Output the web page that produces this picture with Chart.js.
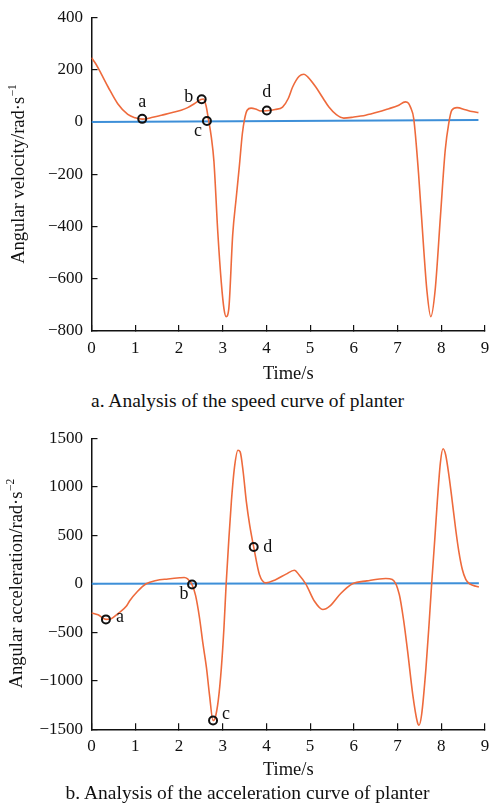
<!DOCTYPE html>
<html>
<head>
<meta charset="utf-8">
<script src="https://cdn.jsdelivr.net/npm/chart.js@4.4.1/dist/chart.umd.min.js"></script>
<style>
  html, body { margin: 0; padding: 0; background: #fff; }
  #page { position: relative; width: 491px; height: 810px; background: #fff; overflow: hidden; }
  canvas { position: absolute; left: 0; }
  .caption {
    position: absolute; left: 2px; width: 491px; text-align: center; white-space: nowrap;
    font: 19.5px/20px "Liberation Serif", "Times New Roman", serif; color: #111;
  }
</style>
</head>
<body>
<div id="page">
  <canvas id="speedChart" width="491" height="390" style="top:0"></canvas>
  <div class="caption" style="top:391px">a. Analysis of the speed curve of planter</div>
  <canvas id="accelChart" width="491" height="390" style="top:400px"></canvas>
  <div class="caption" style="top:783px">b. Analysis of the acceleration curve of planter</div>
</div>
<script>
// tick labels
var timeTicks = [0, 1, 2, 3, 4, 5, 6, 7, 8, 9];
var speedTicks = [-800, -600, -400, -200, 0, 200, 400];
var accelTicks = [-1500, -1000, -500, 0, 500, 1000, 1500];
var markLabels = ['a', 'b', 'c', 'd'];

// angular velocity (rad/s)
var speedTime = [0, 0.1, 0.22, 0.38, 0.6, 0.83, 1.0, 1.16, 1.4, 1.6, 1.85, 2.05, 2.2, 2.35, 2.5, 2.56,
  2.62, 2.67, 2.74, 2.8, 2.89, 2.97, 3.03, 3.08, 3.14, 3.23, 3.31, 3.38, 3.45, 3.5, 3.56, 3.65,
  3.75, 3.87, 4.0, 4.2, 4.37, 4.5, 4.6, 4.75, 4.86, 4.95, 5.13, 5.3, 5.43, 5.6, 5.77, 6.0, 6.27,
  6.55, 6.8, 7.0, 7.18, 7.25, 7.3, 7.37, 7.48, 7.6, 7.67, 7.76, 7.86, 7.98, 8.09, 8.17, 8.24,
  8.36, 8.55, 8.7, 8.85];
var speedValue = [246, 222, 185, 134, 70, 29, 16, 11, 18, 26, 36, 45, 55, 70, 86, 88,
  62, 15, -57, -150, -426, -617, -715, -745, -715, -430, -290, -172, -45, 10, 45, 53,
  50, 42, 43, 48, 57, 90, 134, 175, 183, 172, 134, 90, 57, 28, 15, 19, 26,
  38, 51, 62, 77, 72, 55, 13, -197, -490, -643, -745, -643, -363, -108, -6, 45,
  55, 47, 40, 36];
var speedRefTime = [0, 8.85];
var speedRefValue = [0, 8];
var speedMarkTime = [1.16, 2.52, 2.64, 4.01];
var speedMarkValue = [12, 87, 4, 44];

// angular acceleration (rad/s^2)
var accelTime = [0, 0.15, 0.33, 0.45, 0.6, 0.8, 0.87, 1.05, 1.25, 1.48, 1.75, 2.02, 2.12, 2.2,
  2.3, 2.38, 2.47, 2.55, 2.63, 2.7, 2.78, 2.83, 2.9, 2.97, 3.03, 3.08, 3.14, 3.2, 3.27, 3.35,
  3.4, 3.47, 3.54, 3.62, 3.71, 3.84, 3.99, 4.2, 4.45, 4.64, 4.75, 4.9, 5.1, 5.29, 5.45, 5.7,
  5.97, 6.3, 6.73, 6.88, 7.04, 7.14, 7.23, 7.35, 7.45, 7.49, 7.55, 7.65, 7.72, 7.78, 7.85,
  7.91, 7.98, 8.04, 8.1, 8.18, 8.25, 8.33, 8.4, 8.48, 8.56, 8.62, 8.72, 8.86];
var accelValue = [-300, -320, -367, -360, -310, -230, -178, -80, 0, 35, 50, 62, 65, 50,
  -8, -120, -350, -620, -867, -1150, -1410, -1380, -1200, -867, -450, 0, 450, 853, 1200, 1377,
  1360, 1150, 853, 600, 379, 97, 10, 40, 100, 140, 90, 0, -180, -265, -230, -100,
  0, 30, 55, 45, -110, -380, -695, -1150, -1420, -1458, -1350, -867, -420, 0, 450,
  853, 1250, 1393, 1330, 1100, 853, 560, 337, 150, 45, 10, -15, -34];
var accelRefTime = [0, 8.86];
var accelRefValue = [0, 5];
var accelMarkTime = [0.33, 2.3, 2.78, 3.71];
var accelMarkValue = [-367, -8, -1410, 379];

var FONT = '"Liberation Serif", "Times New Roman", serif';
var INK = '#111';

function toPoints(xs, ys) {
  return xs.map(function (x, i) { return { x: x, y: ys[i] }; });
}

function fixedTicks(values) {
  return function (scale) {
    scale.ticks = values.map(function (v) { return { value: v }; });
  };
}

function minusSign(value) {
  return String(value).replace('-', '\u2212');
}

// y axis title with a superscript unit, rotated
var yTitlePlugin = {
  id: 'yTitle',
  afterDraw: function (chart, args, opts) {
    var ctx = chart.ctx;
    var area = chart.chartArea;
    var supSize = opts.size * 0.62;
    ctx.save();
    ctx.translate(opts.x, (area.top + area.bottom) / 2);
    ctx.rotate(-Math.PI / 2);
    ctx.fillStyle = INK;
    ctx.textAlign = 'left';
    ctx.textBaseline = 'alphabetic';
    ctx.font = opts.size + 'px ' + FONT;
    var w1 = ctx.measureText(opts.text).width;
    ctx.font = supSize + 'px ' + FONT;
    var w2 = ctx.measureText(opts.sup).width;
    var start = -(w1 + w2) / 2;
    ctx.font = opts.size + 'px ' + FONT;
    ctx.fillText(opts.text, start, 0);
    ctx.font = supSize + 'px ' + FONT;
    ctx.fillText(opts.sup, start + w1 + 0.5, -opts.size * 0.42);
    ctx.restore();
  }
};

// letters next to the marked points
var pointLabelPlugin = {
  id: 'pointLabels',
  afterDatasetsDraw: function (chart, args, opts) {
    var ctx = chart.ctx;
    var xs = chart.scales.x;
    var ys = chart.scales.y;
    ctx.save();
    ctx.fillStyle = INK;
    ctx.font = '18px ' + FONT;
    ctx.textAlign = 'center';
    ctx.textBaseline = 'middle';
    opts.times.forEach(function (t, i) {
      var off = opts.offsets[i];
      ctx.fillText(markLabels[i], xs.getPixelForValue(t) + off[0], ys.getPixelForValue(opts.values[i]) + off[1]);
    });
    ctx.restore();
  }
};

function buildCurveChart(canvasId, setup) {
  var canvas = document.getElementById(canvasId);
  return new Chart(canvas, {
    type: 'line',
    data: {
      datasets: [
        {
          label: 'marks',
          data: toPoints(setup.markTime, setup.markValue),
          showLine: false,
          pointRadius: 4,
          pointBorderWidth: 2,
          pointBorderColor: INK,
          pointBackgroundColor: 'rgba(0,0,0,0)',
          order: 0
        },
        {
          label: 'curve',
          data: toPoints(setup.time, setup.value),
          borderColor: '#ee6a3c',
          borderWidth: 1.6,
          pointRadius: 0,
          cubicInterpolationMode: 'monotone',
          fill: false,
          order: 1
        },
        {
          label: 'reference',
          data: toPoints(setup.refTime, setup.refValue),
          borderColor: '#3d8fd8',
          borderWidth: 2,
          pointRadius: 0,
          tension: 0,
          fill: false,
          order: 2
        }
      ]
    },
    options: {
      responsive: false,
      animation: false,
      events: [],
      layout: { padding: { left: 0, right: 4.5, top: setup.topPad, bottom: 0 } },
      plugins: {
        legend: { display: false },
        tooltip: { enabled: false },
        yTitle: { text: setup.yTitle, sup: setup.ySup, size: 18.5, x: setup.yTitleX },
        pointLabels: { times: setup.markTime, values: setup.markValue, offsets: setup.labelOffsets }
      },
      scales: {
        x: {
          type: 'linear',
          min: timeTicks[0],
          max: timeTicks[timeTicks.length - 1],
          afterBuildTicks: fixedTicks(timeTicks),
          afterFit: function (scale) {
            scale.height = setup.xAxisHeight;
            scale.paddingLeft = 0;
            scale.paddingRight = 0;
          },
          grid: { drawOnChartArea: false, tickLength: -6, color: INK, lineWidth: 1.2 },
          border: { display: true, color: INK, width: 1.5 },
          ticks: { color: INK, font: { family: FONT, size: 17 }, padding: 13.5, maxRotation: 0, autoSkip: false },
          title: {
            display: true,
            text: 'Time/s',
            color: INK,
            font: { family: FONT, size: 18.5 },
            padding: { top: 0, bottom: setup.xTitlePad }
          }
        },
        y: {
          type: 'linear',
          min: setup.yTicks[0],
          max: setup.yTicks[setup.yTicks.length - 1],
          afterBuildTicks: fixedTicks(setup.yTicks),
          afterFit: function (scale) {
            scale.width = 91.5;
            scale.paddingTop = 0;
            scale.paddingBottom = 0;
          },
          grid: { drawOnChartArea: false, tickLength: -6, color: INK, lineWidth: 1.2 },
          border: { display: true, color: INK, width: 1.5 },
          ticks: { color: INK, font: { family: FONT, size: 17 }, padding: 14.5, callback: minusSign }
        }
      }
    },
    plugins: [yTitlePlugin, pointLabelPlugin]
  });
}

buildCurveChart('speedChart', {
  time: speedTime, value: speedValue,
  refTime: speedRefTime, refValue: speedRefValue,
  markTime: speedMarkTime, markValue: speedMarkValue,
  yTicks: speedTicks,
  yTitle: 'Angular velocity/rad\u00b7s', ySup: '\u22121', yTitleX: 23.5,
  topPad: 17.5, xAxisHeight: 59, xTitlePad: 5.1,
  labelOffsets: [[0, -17], [-13, -2], [-9, 10], [0, -18]]
});

buildCurveChart('accelChart', {
  time: accelTime, value: accelValue,
  refTime: accelRefTime, refValue: accelRefValue,
  markTime: accelMarkTime, markValue: accelMarkValue,
  yTicks: accelTicks,
  yTitle: 'Angular acceleration/rad\u00b7s', ySup: '\u22122', yTitleX: 22,
  topPad: 38.3, xAxisHeight: 60.7, xTitlePad: 9.1,
  labelOffsets: [[14, -2], [-8, 10], [13, -6], [14, 0]]
});
</script>
</body>
</html>
